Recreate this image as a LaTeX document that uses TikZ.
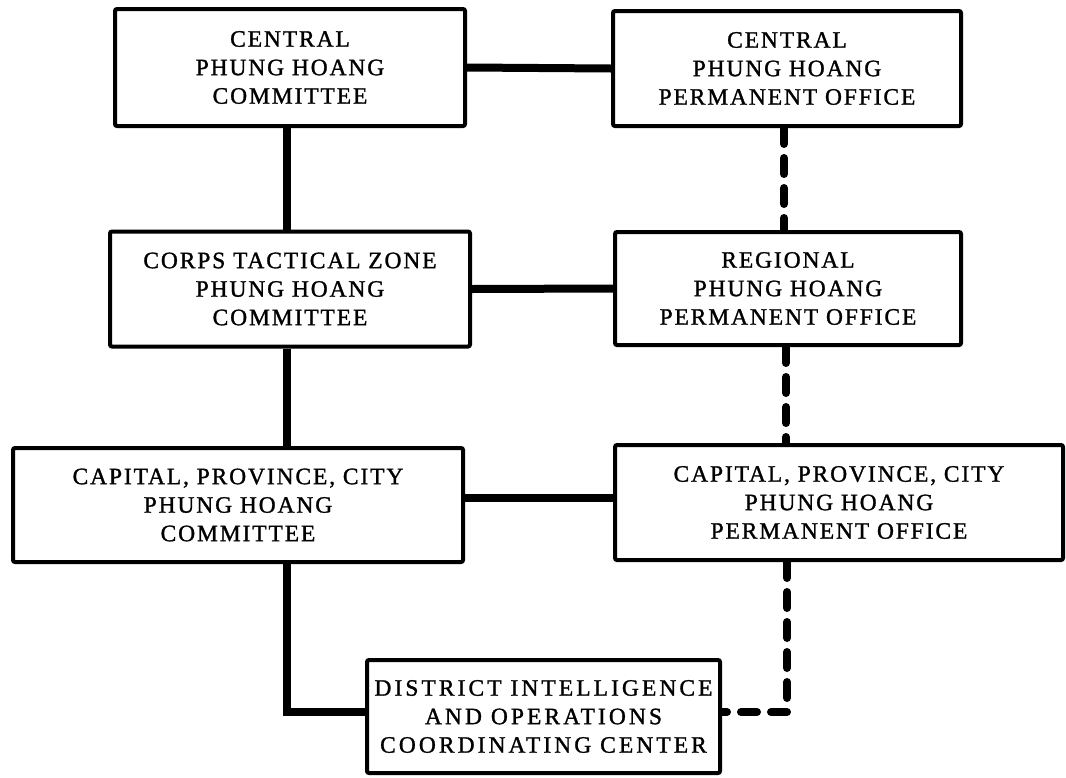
\documentclass[tikz,border=0pt]{standalone}
\usepackage{fontspec}
\setmainfont{Liberation Serif}[LetterSpace=8, FakeBold=1.2]
\begin{document}
\begin{tikzpicture}[x=1pt,y=-1pt,
        box/.style={draw=black, line width=4pt, fill=white, rounded corners=2pt, align=center, inner sep=0pt, font=\fontsize{23.5}{28.5}\selectfont},
        link/.style={line width=8pt},
        dlink/.style={line width=8pt, line cap=round, dash pattern=on 16pt off 14pt}]
    \useasboundingbox (0,0) rectangle (1066,777);

    % committees, left column
    \node [box, minimum width=350pt, minimum height=117pt] (CPC) at (290,67.5) {CENTRAL\\PHUNG HOANG\\COMMITTEE};
    \node [box, minimum width=360pt, minimum height=115pt] (CTZ) at (290,289) {CORPS TACTICAL ZONE\\PHUNG HOANG\\COMMITTEE};
    \node [box, minimum width=450pt, minimum height=114pt] (CPCC) at (238,505) {CAPITAL, PROVINCE, CITY\\PHUNG HOANG\\COMMITTEE};

    % permanent offices, right column
    \node [box, minimum width=348pt, minimum height=115pt] (CPO) at (787,68.5) {CENTRAL\\PHUNG HOANG\\PERMANENT OFFICE};
    \node [box, minimum width=346pt, minimum height=113pt] (RPO) at (788,288.5) {REGIONAL\\PHUNG HOANG\\PERMANENT OFFICE};
    \node [box, minimum width=448pt, minimum height=115pt] (CPPO) at (839,502.5) {CAPITAL, PROVINCE, CITY\\PHUNG HOANG\\PERMANENT OFFICE};

    \node [box, minimum width=353pt, minimum height=113pt, font=\fontsize{23.5}{28.5}\selectfont\addfontfeatures{LetterSpace=13}] (DIOCC) at (543.5,716.5) {DISTRICT INTELLIGENCE\\AND OPERATIONS\\COORDINATING CENTER};

    % solid links
    \draw[link] (CPC.east) -- (CPO.west);
    \draw[link] (CTZ.east) -- (RPO.west);
    \draw[link] (CPCC.east |- 0,498) -- (CPPO.west |- 0,498);
    \draw[link] (CPC.south -| 287,0) -- (CTZ.north -| 287,0);
    \draw[link] (CTZ.south -| 287,0) -- (CPCC.north -| 287,0);
    \draw[link] (CPCC.south -| 287,0) |- (DIOCC.west |- 0,712);

    % dashed links
    \draw[dlink] (CPO.south -| 784,0) -- (RPO.north -| 784,0);
    \draw[dlink] (RPO.south -| 786,0) -- (CPPO.north -| 786,0);
    \draw[dlink] (CPPO.south -| 787,0) -- (787,712) -- (DIOCC.east |- 0,712);
\end{tikzpicture}
\end{document}
